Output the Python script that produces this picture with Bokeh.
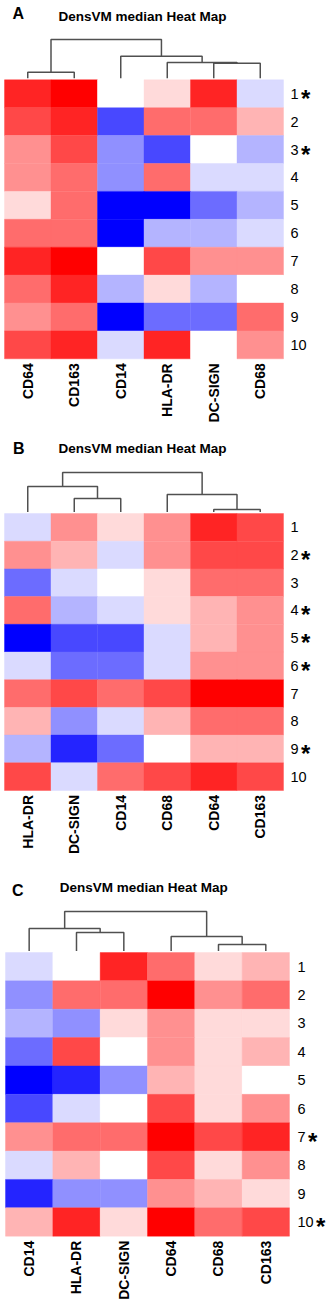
import numpy as np
from bokeh.plotting import figure
from bokeh.layouts import column
from bokeh.models import ColumnDataSource, Range1d, LinearColorMapper
from bokeh.transform import transform
from bokeh.embed import file_html
from bokeh.resources import INLINE
from bokeh.core.properties import value

# ---------------- data ----------------
row_labels = ["1", "2", "3", "4", "5", "6", "7", "8", "9", "10"]

markers_A = ["CD64", "CD163", "CD14", "HLA-DR", "DC-SIGN", "CD68"]
values_A = [
    [6, 7, 0, 1, 6, -1],
    [5, 6, -5, 4, 4, 2],
    [3, 5, -3, -5, 0, -2],
    [3, 4, -3, 4, -1, -1],
    [1, 4, -7, -7, -4, -2],
    [4, 4, -7, -2, -2, -1],
    [6, 7, 0, 5, 3, 3],
    [4, 6, -2, 1, -2, 0],
    [3, 4, -7, -4, -4, 4],
    [5, 6, -1, 6, 0, 3],
]
stars_A = ["1", "3"]
# merges (left node, right node, height); leaves 0-5, new nodes numbered from 6
links_A = [(0, 1, 7.6), (4, 5, 16.5), (3, 7, 17.2), (2, 8, 23.6), (6, 9, 40.3)]

markers_B = ["HLA-DR", "DC-SIGN", "CD14", "CD68", "CD64", "CD163"]
values_B = [
    [-1, 3, 1, 3, 6, 5],
    [3, 2, -1, 3, 5, 5],
    [-4, -1, 0, 1, 4, 4],
    [4, -2, -1, 1, 2, 3],
    [-7, -5, -5, -1, 2, 3],
    [-1, -4, -4, -1, 3, 3],
    [4, 5, 4, 5, 7, 7],
    [2, -3, -1, 2, 4, 4],
    [-2, -6, -4, 0, 2, 2],
    [5, -1, 4, 5, 6, 5],
]
stars_B = ["2", "4", "5", "6", "9"]
links_B = [(4, 5, 4.0), (1, 2, 15.0), (3, 6, 19.0), (0, 7, 27.0), (9, 8, 41.0)]

markers_C = ["CD14", "HLA-DR", "DC-SIGN", "CD64", "CD68", "CD163"]
values_C = [
    [-1, 0, 6, 4, 1, 2],
    [-3, 4, 4, 7, 3, 4],
    [-2, -3, 1, 3, 1, 1],
    [-4, 5, 0, 3, 1, 2],
    [-7, -6, -3, 2, 1, 0],
    [-5, -1, 0, 5, 1, 3],
    [3, 4, 4, 7, 5, 6],
    [-1, 2, 0, 5, 1, 3],
    [-6, -3, -3, 3, 2, 1],
    [2, 6, 1, 7, 4, 5],
]
stars_C = ["7", "10"]
links_C = [(4, 5, 8.0), (3, 6, 16.0), (1, 2, 20.0), (0, 8, 24.0), (9, 7, 41.0)]

TITLE = "DensVM median Heat Map"

# ---------------- style ----------------
steps = [0x00, 0x24, 0x48, 0x6C, 0x90, 0xB4, 0xDA, 0xFF]
palette = []
for n in range(-7, 8):
    c = steps[7 - abs(n)]
    palette.append("#%02x%02xff" % (c, c) if n < 0 else "#ff%02x%02x" % (c, c))
mapper = LinearColorMapper(palette=palette, low=-7.5, high=7.5)
FONT = value("Liberation Sans")
W = 332


def panel(letter, markers, vals, stars, links, H, heat_left, heat_top, rowh,
          colw, letter_pos, title_pos, lab_px):
    ncol = len(markers)
    nrow = len(row_labels)
    y_top = nrow + heat_top / rowh
    y_bot = nrow - (H - heat_top) / rowh
    x0 = -heat_left / colw

    def X(px):
        return (px - heat_left) / colw

    p = figure(width=W, height=H, x_range=Range1d(x0, x0 + W / colw),
               y_range=Range1d(y_bot, y_top), output_backend="svg",
               toolbar_location=None, x_axis_type=None, y_axis_type=None,
               min_border=0, outline_line_color=None)
    p.grid.visible = False
    p.background_fill_color = "white"
    p.border_fill_color = "white"

    xs, ys, vs = [], [], []
    for r, row in enumerate(vals):
        for c, v in enumerate(row):
            xs.append(c + 0.5)
            ys.append(nrow - r - 0.5)
            vs.append(v)
    src = ColumnDataSource(dict(x=xs, y=ys, v=vs))
    p.rect(x="x", y="y", width=1, height=1, source=src,
           fill_color=transform("v", mapper), line_color=transform("v", mapper),
           line_width=0.4)

    # dendrogram
    leaf_h = 1.5
    pos = {i: i + 0.5 for i in range(ncol)}
    hgt = {i: leaf_h for i in range(ncol)}
    lx, ly = [], []
    for k, (a, b, h) in enumerate(links):
        node = ncol + k
        lx.append([pos[a], pos[a], pos[b], pos[b]])
        ly.append([nrow + hgt[a] / rowh, nrow + h / rowh,
                   nrow + h / rowh, nrow + hgt[b] / rowh])
        pos[node] = (pos[a] + pos[b]) / 2
        hgt[node] = h
    p.multi_line(xs=lx, ys=ly, line_color="#505050", line_width=1.5)

    # letter and title
    p.text(x=[X(letter_pos[0])], y=[y_top - letter_pos[1] / rowh],
           text=[letter], text_font=FONT, text_font_style="bold",
           text_font_size="16px", text_baseline="middle", text_align="left",
           text_color="black")
    p.text(x=[X(title_pos[0])], y=[y_top - title_pos[1] / rowh],
           text=[TITLE], text_font=FONT, text_font_style="bold",
           text_font_size="13.5px", text_baseline="middle", text_align="left",
           text_color="black")

    # row labels and asterisks
    lab_x = X(lab_px)
    p.text(x=[lab_x] * nrow, y=[nrow - r - 0.5 for r in range(nrow)],
           text=row_labels, text_font=FONT, text_font_size="14.5px",
           text_baseline="middle", text_align="left", text_color="black")
    sx, sy = [], []
    for r, lab in enumerate(row_labels):
        if lab in stars:
            sx.append(lab_x + (len(lab) * 8.0 + 2.5) / colw)
            sy.append(nrow - r - 0.5)
    p.text(x=sx, y=sy, text=["*"] * len(sx), text_font=FONT,
           text_font_style="bold", text_font_size="24px", text_baseline="middle",
           text_align="left", text_color="black", y_offset=4.5)

    # column labels
    p.text(x=[c + 0.5 for c in range(ncol)], y=[-4.5 / rowh] * ncol,
           text=markers, angle=np.pi / 2, text_font=FONT,
           text_font_style="bold", text_font_size="14px",
           text_baseline="middle", text_align="right", text_color="black")
    return p


pA = panel("A", markers_A, values_A, stars_A, links_A, H=430, heat_left=4,
           heat_top=79.3, rowh=27.9, colw=46.5, letter_pos=(12, 13.3),
           title_pos=(58, 16), lab_px=290)
pB = panel("B", markers_B, values_B, stars_B, links_B, H=435, heat_left=4,
           heat_top=83, rowh=27.7, colw=46.5, letter_pos=(12.5, 18),
           title_pos=(58, 18), lab_px=290)
pC = panel("C", markers_C, values_C, stars_C, links_C, H=437, heat_left=5,
           heat_top=87, rowh=28.37, colw=47.33, letter_pos=(11.5, 25),
           title_pos=(59.3, 21.7), lab_px=297)

layout = column(pA, pB, pC, spacing=0)
open("out.html", "w").write(file_html(layout, INLINE))
